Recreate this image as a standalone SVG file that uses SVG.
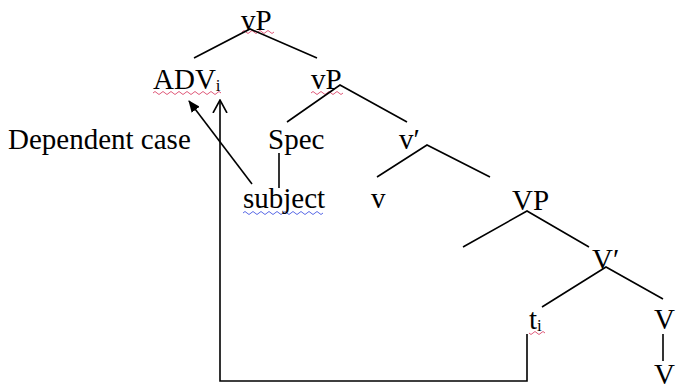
<svg xmlns="http://www.w3.org/2000/svg" width="677" height="390" viewBox="0 0 677 390">
<style>
.t{font-family:"Liberation Serif","Times New Roman",serif;font-size:29px;fill:#000}
.s{font-size:17px}
.e{stroke:#000;stroke-width:1.6;fill:none}
.wr{stroke:#e05a7a;stroke-width:1;fill:none}
.wb{stroke:#5a6ae6;stroke-width:1;fill:none}
</style>
<defs>
<marker id="fa" viewBox="0 0 12 10" refX="11" refY="5" markerWidth="12" markerHeight="10" markerUnits="userSpaceOnUse" orient="auto">
<path d="M0 0 L12 5 L0 10 Z" fill="#000"/>
</marker>
<marker id="oa" viewBox="0 0 14 16" refX="13" refY="8" markerWidth="14" markerHeight="16" markerUnits="userSpaceOnUse" orient="auto">
<path d="M0 1 L13 8 L0 15" fill="none" stroke="#000" stroke-width="1.6"/>
</marker>
</defs>
<rect width="677" height="390" fill="#fff"/>
<g id="squiggles">
<path class="wr" d="M242 32 q2 -3 4 0 t4 0 t4 0 t4 0 t4 0 t4 0 t4 0 t4 0"/>
<path class="wr" d="M153 93 q2 -3 4 0 t4 0 t4 0 t4 0 t4 0 t4 0 t4 0 t4 0 t4 0 t4 0 t4 0 t4 0 t4 0 t4 0 t4 0 t4 0 t4 0"/>
<path class="wr" d="M311 93 q2 -3 4 0 t4 0 t4 0 t4 0 t4 0 t4 0 t4 0 t4 0"/>
<path class="wb" d="M243 213 q2 -3 4 0 t4 0 t4 0 t4 0 t4 0 t4 0 t4 0 t4 0 t4 0 t4 0 t4 0 t4 0 t4 0 t4 0 t4 0 t4 0 t4 0 t4 0 t4 0 t4 0"/>
<path class="wr" d="M529 333 q2 3 4 0 t4 0 t4 0 t4 0"/>
</g>
<g id="connectors">
<path class="e" d="M194 58 L250 29 L317 58"/>
<path class="e" d="M287 122 L340 85 L407 122"/>
<path class="e" d="M377 177 L427 145 L490 177"/>
<path class="e" d="M463 247 L527 211 L589 247"/>
<path class="e" d="M542 307 L606 267 L663 299"/>
<path class="e" d="M279 153 L279 188"/>
<path class="e" d="M663 334 L663 361"/>
<path class="e" d="M252 184 L189 101" marker-end="url(#fa)"/>
<path class="e" d="M527 334 L527 381 L220 381 L220 100" marker-end="url(#oa)"/>
</g>
<g id="n-vP-top"><text class="t" x="241" y="30">vP</text></g>
<g id="n-ADV"><text class="t" x="153" y="89">ADV<tspan class="s" dy="2">i</tspan></text></g>
<g id="n-vP"><text class="t" x="311" y="89">vP</text></g>
<g id="n-dep"><text class="t" x="8" y="149">Dependent case</text></g>
<g id="n-Spec"><text class="t" x="268" y="149">Spec</text></g>
<g id="n-vbar"><text class="t" x="399" y="149">v′</text></g>
<g id="n-subject"><text class="t" x="243" y="208">subject</text></g>
<g id="n-v"><text class="t" x="371" y="208">v</text></g>
<g id="n-VP"><text class="t" x="512" y="210">VP</text></g>
<g id="n-Vbar"><text class="t" x="592" y="269">V′</text></g>
<g id="n-t"><text class="t" x="529" y="329">t<tspan class="s" dy="2">i</tspan></text></g>
<g id="n-V"><text class="t" x="654" y="329">V</text></g>
<g id="n-V2"><text class="t" x="654" y="384">V</text></g>
</svg>
